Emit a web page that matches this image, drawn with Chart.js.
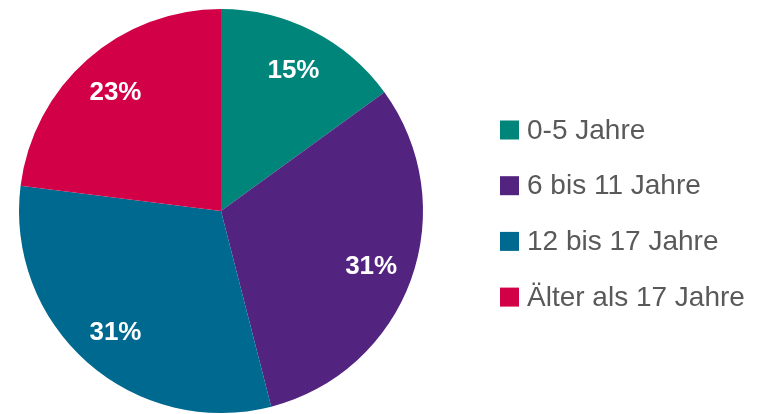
<!DOCTYPE html>
<html>
<head>
<meta charset="utf-8">
<script src="https://cdn.jsdelivr.net/npm/chart.js@4/dist/chart.umd.min.js"></script>
<style>
html,body{margin:0;padding:0;background:#fff;}
#wrap{position:relative;width:763px;height:414px;}
</style>
</head>
<body>
<div id="wrap"><canvas id="c" width="763" height="414"></canvas></div>
<script>
const categories = ["0-5 Jahre", "6 bis 11 Jahre", "12 bis 17 Jahre", "Älter als 17 Jahre"];
const values = [15, 31, 31, 23];
const valueLabels = ["15%", "31%", "31%", "23%"];
const colors = ["#00857A", "#52237F", "#00698F", "#D20046"];

const labelPlugin = {
  id: 'sliceLabels',
  afterDatasetsDraw(chart) {
    const ctx = chart.ctx;
    const meta = chart.getDatasetMeta(0);
    ctx.save();
    ctx.fillStyle = '#ffffff';
    ctx.font = 'bold 26px "Liberation Sans", Arial, sans-serif';
    ctx.textAlign = 'center';
    ctx.textBaseline = 'middle';
    meta.data.forEach((arc, i) => {
      const p = arc.getProps(['x','y','startAngle','endAngle','outerRadius'], true);
      const mid = (p.startAngle + p.endAngle) / 2;
      const r = p.outerRadius * 0.79;
      ctx.fillText(valueLabels[i], p.x + Math.cos(mid) * r, p.y + Math.sin(mid) * r + 2);
    });
    ctx.restore();
  }
};

const legendPlugin = {
  id: 'sideLegend',
  afterDraw(chart) {
    const ctx = chart.ctx;
    ctx.save();
    ctx.font = '28px "Liberation Sans", Arial, sans-serif';
    ctx.textBaseline = 'middle';
    ctx.textAlign = 'left';
    const x0 = 500, y0 = 130, gap = 55.7, box = 19;
    categories.forEach((c, i) => {
      const y = y0 + i * gap;
      ctx.fillStyle = colors[i];
      ctx.fillRect(x0, y - box / 2, box, box);
      ctx.fillStyle = '#595959';
      ctx.fillText(c, x0 + 27, y + 1);
    });
    ctx.restore();
  }
};

new Chart(document.getElementById('c'), {
  type: 'pie',
  data: {
    labels: categories,
    datasets: [{
      data: values,
      backgroundColor: colors,
      borderWidth: 0
    }]
  },
  options: {
    responsive: false,
    animation: false,
    layout: { padding: { left: 19, right: 340, top: 9, bottom: 1 } },
    plugins: { legend: { display: false }, tooltip: { enabled: false } }
  },
  plugins: [labelPlugin, legendPlugin]
});
</script>
</body>
</html>
